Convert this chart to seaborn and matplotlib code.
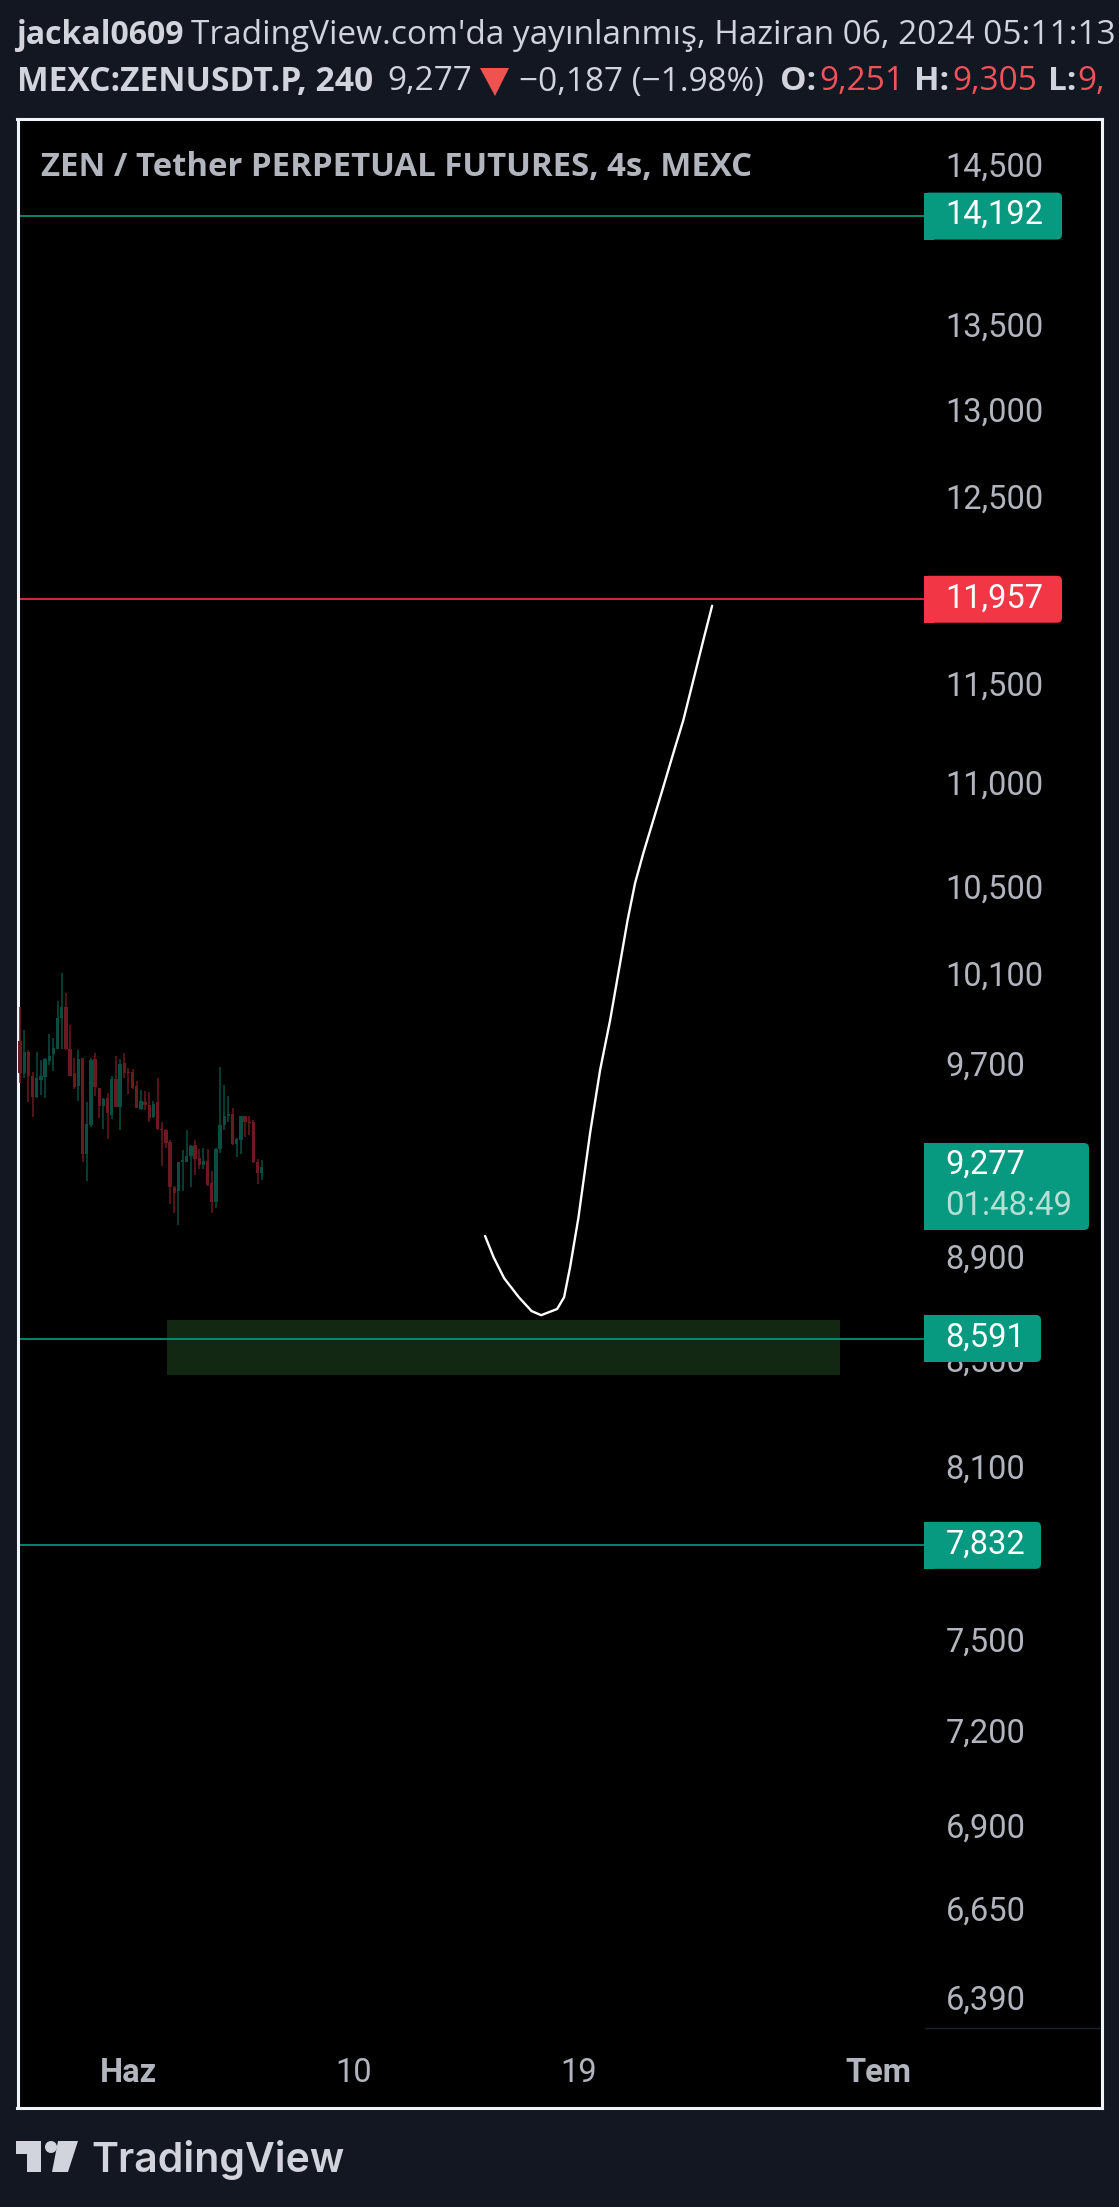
import numpy as np
import matplotlib
matplotlib.use("Agg")
import matplotlib.pyplot as plt
from matplotlib.patches import Rectangle, FancyBboxPatch, Polygon, Circle
from matplotlib.transforms import Affine2D
import seaborn as sns

# ---- data -----
bar_open = [9.813,9.672,9.764,9.660,9.570,9.643,9.657,9.725,9.756,9.779,9.916,9.963,9.777,9.673,9.618,9.738,9.329,9.452,9.734,9.608,
            9.531,9.566,9.493,9.647,9.527,9.716,9.680,9.677,9.617,9.519,9.548,9.536,9.485,9.548,9.436,9.430,9.380,9.192,9.176,9.296,
            9.296,9.321,9.367,9.313,9.283,9.300,9.208,9.131,9.350,9.451,9.489,9.497,9.371,9.388,9.489,9.466,9.464,9.296,9.251]
bar_close = [9.672,9.764,9.660,9.571,9.651,9.660,9.735,9.750,9.782,9.917,9.963,9.777,9.661,9.612,9.734,9.329,9.455,9.730,9.612,9.531,
             9.561,9.502,9.647,9.527,9.712,9.673,9.674,9.608,9.523,9.553,9.536,9.480,9.540,9.434,9.431,9.375,9.192,9.168,9.296,9.304,
             9.321,9.363,9.308,9.283,9.300,9.200,9.131,9.350,9.451,9.489,9.497,9.371,9.392,9.489,9.464,9.461,9.296,9.250,9.277]
bar_high = [9.965,9.864,9.773,9.677,9.767,9.730,9.741,9.844,9.826,9.990,10.116,10.026,9.883,9.738,9.773,9.738,9.548,9.738,9.760,9.608,
            9.566,9.587,9.660,9.747,9.734,9.760,9.695,9.690,9.639,9.600,9.595,9.591,9.553,9.651,9.464,9.434,9.388,9.196,9.296,9.346,
            9.430,9.367,9.388,9.350,9.354,9.350,9.258,9.354,9.699,9.621,9.574,9.523,9.396,9.489,9.489,9.489,9.472,9.308,9.305]
bar_low = [9.631,9.653,9.550,9.486,9.567,9.580,9.567,9.708,9.683,9.779,9.779,9.775,9.660,9.605,9.554,9.296,9.217,9.444,9.574,9.480,
           9.434,9.392,9.476,9.527,9.430,9.651,9.583,9.604,9.523,9.514,9.514,9.464,9.480,9.430,9.279,9.354,9.123,9.086,9.037,9.176,
           9.296,9.192,9.241,9.267,9.267,9.196,9.086,9.106,9.333,9.430,9.464,9.367,9.317,9.329,9.400,9.409,9.292,9.204,9.221]
first_bar_day = -4.34
bars_per_day = 6

sketch_day = [14.26,14.6,15.02,15.61,16.12,16.5,17.14,17.42,17.66,17.99,18.46,18.86,19.26,19.66,19.96,20.26,20.59,20.99,21.39,21.79,22.19,22.59,22.99,23.34]
sketch_price = [8.994,8.909,8.826,8.751,8.697,8.681,8.705,8.751,8.870,9.066,9.418,9.687,9.905,10.161,10.359,10.532,10.674,10.833,10.995,11.162,11.328,11.532,11.741,11.922]

level_prices = [14.192, 11.957, 8.591, 7.832]
level_colors = ["#089981", "#f23645", "#089981", "#089981"]
level_labels = ["14,192", "11,957", "8,591", "7,832"]
zone_days = [1.52, 28.46]
zone_prices = [8.451, 8.663]
price_ticks = [14.5,13.5,13.0,12.5,11.5,11.0,10.5,10.1,9.7,8.9,8.5,8.1,7.5,7.2,6.9,6.65,6.39]
time_ticks = [0, 9, 18, 30]
time_labels = ["Haz", "10", "19", "Tem"]
last_price = "9,277"
countdown = "01:48:49"

BG = "#131722"; FG = "#d1d4dc"; FRAME = "#f0f3fa"; AXT = "#b2b5be"
UP = "#0a4d42"; DOWN = "#6a1a20"; RED = "#f0525a"

sns.set_theme(style="dark")
plt.rcParams["font.family"] = ["Open Sans", "DejaVu Sans"]

W, H = 1119, 2207
fig = plt.figure(figsize=(W/100, H/100), dpi=100, facecolor=BG)
ax = fig.add_axes([17.5/W, (H-2107.5)/H, (1102-17.5)/W, (2107.5-118.5)/H], facecolor="black")
ax.set_yscale("log")
ax.set_xlim(-4.444, 38.936)
ax.set_ylim(6.091, 14.825)
for s in ax.spines.values():
    s.set_color(FRAME); s.set_linewidth(2.2); s.set_visible(True)
ax.grid(False)

# candles
bar_day = first_bar_day + np.arange(len(bar_open)) / bars_per_day
o, c, hi, lo = map(np.array, (bar_open, bar_close, bar_high, bar_low))
cols = np.where(c >= o, UP, DOWN)
ax.vlines(bar_day, lo, hi, colors=cols, linewidth=1.1, zorder=3)
ax.bar(bar_day, np.abs(c-o), bottom=np.minimum(o, c), width=0.135, color=cols, linewidth=0, zorder=3)

# zone + levels
ax.fill_between(zone_days, zone_prices[0], zone_prices[1], color="#132813", linewidth=0, zorder=1)
line_end = 31.86
ax.hlines(level_prices, ax.get_xlim()[0], line_end, colors=level_colors, linewidth=1.2, zorder=2)

# sketch
sns.lineplot(x=sketch_day, y=sketch_price, sort=False, estimator=None, color="white", linewidth=1.7, ax=ax, zorder=4)

ax.minorticks_off()
ax.yaxis.tick_right()
ax.set_yticks(price_ticks)
ax.set_yticklabels([f"{v:.3f}".replace(".", ",") for v in price_ticks], fontfamily="Roboto", fontsize=23.5, color=AXT)
ax.set_xticks(time_ticks)
ax.set_xticklabels(time_labels, fontfamily="Roboto", fontsize=23.5, color=AXT)
for i in (0, 3):
    ax.get_xticklabels()[i].set_fontweight("bold")
ax.tick_params(axis="y", length=0, pad=-112.7, which="both")
ax.tick_params(axis="x", length=0, pad=-36)
ax.set_xlabel(""); ax.set_ylabel("")
for lab in ax.get_yticklabels():
    lab.set_transform(lab.get_transform() + Affine2D().translate(0, 3.5))

# overlay in pixel space
deco = fig.add_axes([0, 0, 1, 1], facecolor="none", zorder=5)
deco.set_xlim(0, W); deco.set_ylim(H, 0); deco.axis("off")

def price_px(p):
    return H - ax.transData.transform((0, p))[1]

def badge(y0, y1, x1, color):
    x0 = 924; r = 5
    deco.add_patch(FancyBboxPatch((x0+r, y0+r), x1-x0-2*r, y1-y0-2*r, boxstyle=f"round,pad={r},rounding_size={r}",
                                  fc=color, ec="none", mutation_aspect=1, zorder=2))
    deco.add_patch(Rectangle((x0, y0), 2*r, y1-y0, fc=color, ec="none", zorder=2))

rights = [1062, 1062, 1041, 1041]
for p, col, lab, x1 in zip(level_prices, level_colors, level_labels, rights):
    y = price_px(p)
    badge(y-23.5, y+23.5, x1, col)
    deco.text(945.5, y-1, lab, family="Roboto", fontsize=23.5, color="white", va="center", ha="left", zorder=3)

badge(1143, 1230, 1089, "#089981")
deco.text(945.5, 1165, last_price, family="Roboto", fontsize=23.5, color="white", va="center", zorder=3)
deco.text(945.5, 1206, countdown, family="Roboto", fontsize=23.7, color="#b5e0d6", va="center", zorder=3)
deco.plot([925, 1100], [2028, 2028], color="#1c2030", lw=1)

# chart title
deco.text(41, 168, "ZEN / Tether PERPETUAL FUTURES, 4s, MEXC", fontsize=23.7, fontweight="bold", color=AXT, va="center")

# header
def head(x, y, s, color=FG, weight="normal", size=24):
    deco.text(x, y, s, fontsize=size, color=color, fontweight=weight, va="center", ha="left")
head(16, 35, "jackal0609", weight="bold", size=23)
head(191, 35, "TradingView.com'da yayınlanmış, Haziran 06, 2024 05:11:13")
head(17, 82, "MEXC:ZENUSDT.P, 240", weight="bold", size=24.2)
head(387, 82, "9,277")
deco.add_patch(Polygon([[480, 68], [509, 68], [495, 96]], fc="#ef5350", ec="none"))
head(519, 82, "−0,187 (−1.98%)")
head(780, 82, "O:", weight="bold")
head(819, 82, "9,251", color=RED)
head(914, 82, "H:", weight="bold")
head(952, 82, "9,305", color=RED)
head(1048, 82, "L:", weight="bold")
head(1077, 82, "9,", color=RED)

# logo
LOGO = "#d1d4dc"
deco.add_patch(Polygon([[16, 2141], [41, 2141], [41, 2172], [27, 2172], [27, 2154], [16, 2154]], fc=LOGO, ec="none"))
deco.add_patch(Circle((51, 2147), 6, fc=LOGO, ec="none"))
deco.add_patch(Polygon([[58, 2141], [78, 2141], [68, 2172], [52, 2172]], fc=LOGO, ec="none"))
deco.text(91, 2172, "TradingView", family="Inter", fontsize=29.5, fontweight="semibold", color=LOGO, va="baseline")

fig.savefig("out.png", dpi=100, facecolor=BG)
